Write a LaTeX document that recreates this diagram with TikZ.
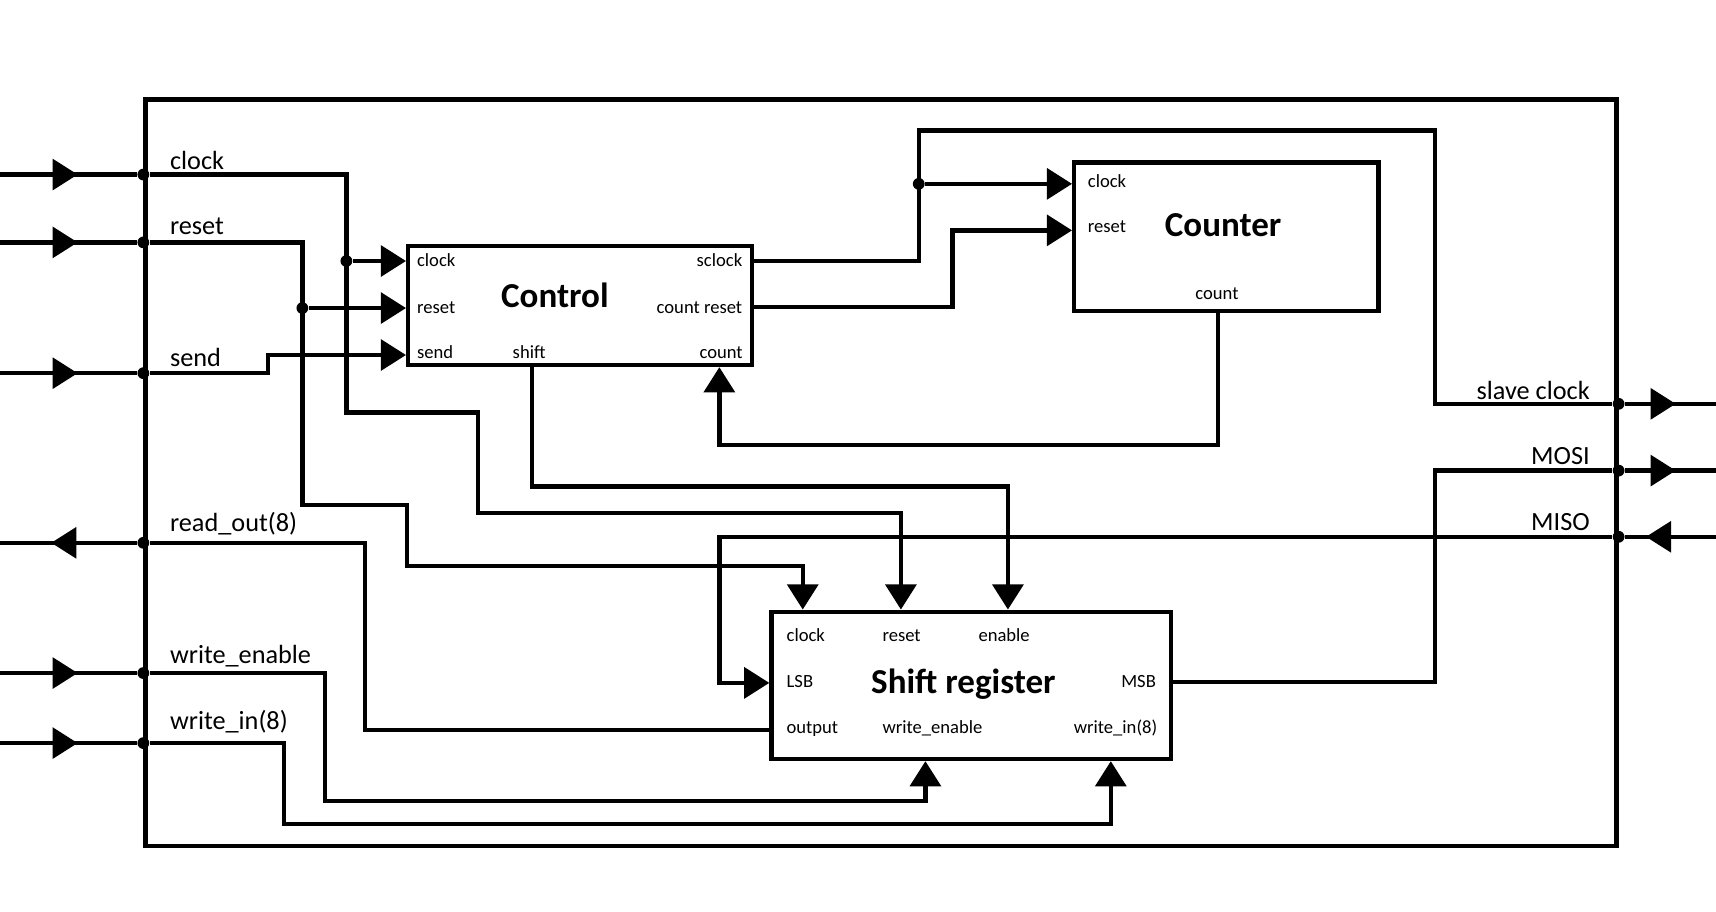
\documentclass[tikz,border=0pt]{standalone}
\usepackage{fontspec}
\setmainfont{Carlito}
\usetikzlibrary{arrows.meta, positioning, calc, decorations.markings}

\begin{document}
\begin{tikzpicture}[x=0.5pt, y=-0.5pt]
  \newcommand\tiplen{11.5pt}
  \newcommand\tipwid{14pt}

  \tikzset{wire/.style={line width=2pt}}
  \tikzset{portarrow/.style={wire, -{Triangle[length=\tiplen, width=\tipwid]}}}
  \tikzset{midarrow/.style={wire, postaction={decorate}, decoration={markings, mark=at position #1 with {\arrow{Triangle[length=\tiplen, width=\tipwid]}}}}}
  \tikzset{block/.style={draw, line width=2pt, inner sep=0pt}}
  \tikzset{jdot/.style={circle, fill, inner sep=0pt, minimum size=5.4pt}}
  \tikzset{portlbl/.style={inner sep=0pt, font=\fontsize{8.5}{10}\selectfont}}
  \tikzset{siglbl/.style={inner sep=0pt, font=\fontsize{12}{14}\selectfont}}
  \tikzset{blocklbl/.style={inner sep=0pt, font=\fontsize{16}{19}\selectfont\bfseries}}

  \useasboundingbox (0,0) rectangle (1568,833);

  % frame and blocks
  \node[block, minimum width=672pt, minimum height=341pt] (frame) at (805,432) {};
  \node[block, minimum width=157pt, minimum height=54.25pt] (ctrl) at (530,279.25) {};
  \node[block, minimum width=139pt, minimum height=67.65pt] (cnt) at (1120.6,216.25) {};
  \node[block, minimum width=182.5pt, minimum height=67.25pt] (sreg) at (887.5,626.25) {};

  \node[blocklbl, anchor=base] (ctrl-name) at (507,281) {Control};
  \node[blocklbl, anchor=base] (cnt-name) at (1117.6,216.3) {Counter};
  \node[blocklbl, anchor=base] (sreg-name) at (880.3,633.5) {Shift register};

  % ports
  \coordinate (ctrl-clk) at (ctrl.west |- 0,238.5);
  \coordinate (ctrl-rst) at (ctrl.west |- 0,281.5);
  \coordinate (ctrl-snd) at (ctrl.west |- 0,324.4);
  \coordinate (ctrl-sclk) at (ctrl.east |- 0,238.5);
  \coordinate (ctrl-crst) at (ctrl.east |- 0,280.5);
  \coordinate (ctrl-shift) at (ctrl.south -| 486,0);
  \coordinate (ctrl-cnt) at (ctrl.south -| 657.3,0);
  \coordinate (cnt-clk) at (cnt.west |- 0,168);
  \coordinate (cnt-rst) at (cnt.west |- 0,210.5);
  \coordinate (cnt-cnt) at (cnt.south -| 1112.8,0);
  \coordinate (sreg-clk) at (sreg.north -| 733.5,0);
  \coordinate (sreg-rst) at (sreg.north -| 823.2,0);
  \coordinate (sreg-en) at (sreg.north -| 921,0);
  \coordinate (sreg-lsb) at (sreg.west |- 0,624);
  \coordinate (sreg-out) at (sreg.west |- 0,667);
  \coordinate (sreg-msb) at (sreg.east |- 0,623);
  \coordinate (sreg-wen) at (sreg.south -| 845.6,0);
  \coordinate (sreg-win) at (sreg.south -| 1015,0);

  \foreach \txt/\pos/\anc [count=\i] in {clock/{380.7,243.7}/base west, reset/{380.7,286.3}/base west, send/{380.7,328}/base west, shift/{468.1,328}/base west, sclock/{678.6,243.7}/base east, count reset/{678.6,286.3}/base east, count/{679,328}/base east}{
    \node[portlbl, anchor=\anc] (ctrl-lbl\i) at (\pos) {\txt};
  }
  \foreach \txt/\pos/\anc [count=\i] in {clock/{993.7,171}/base west, reset/{993.7,212.6}/base west, count/{1112,273.5}/base}{
    \node[portlbl, anchor=\anc] (cnt-lbl\i) at (\pos) {\txt};
  }
  \foreach \txt/\pos/\anc [count=\i] in {clock/{718.4,586.3}/base west, reset/{806,586.3}/base west, enable/{893.7,586.3}/base west, LSB/{718.4,628}/base west, MSB/{1056.6,628}/base east, output/{718.4,670}/base west, write\_enable/{806,670}/base west, write\_in(8)/{1057.8,670}/base east}{
    \node[portlbl, anchor=\anc] (sreg-lbl\i) at (\pos) {\txt};
  }

  % outer signals
  \foreach \sig/\y in {clk/159.5, rst/221.5, snd/341, wen/615, win/679}{
    \coordinate (in-\sig) at (0,\y);
    \node[jdot] (j-\sig) at (frame.west |- in-\sig) {};
    \draw[midarrow=35.5pt] (in-\sig) -- (j-\sig);
  }
  \coordinate (out-rd) at (0,496);
  \node[jdot] (j-rd) at (frame.west |- out-rd) {};
  \draw[midarrow=39.2pt] (j-rd) -- (out-rd);

  \foreach \sig/\y in {sclk/369, mosi/430}{
    \coordinate (out-\sig) at (1568,\y);
    \node[jdot] (j-\sig) at (frame.east |- out-\sig) {};
    \draw[midarrow=23.2pt] (j-\sig) -- (out-\sig);
  }
  \coordinate (in-miso) at (1568,490.5);
  \node[jdot] (j-miso) at (frame.east |- in-miso) {};
  \draw[midarrow=32pt] (in-miso) -- (j-miso);

  \foreach \sig/\txt/\y in {clk/clock/155, rst/reset/214, snd/send/335, rd/read\_out(8)/486, wen/write\_enable/606, win/write\_in(8)/667}{
    \node[siglbl, anchor=base west] (lbl-\sig) at (155,\y) {\txt};
  }
  \foreach \sig/\txt/\y in {sclk/slave clock/364.6, mosi/MOSI/424, miso/MISO/485}{
    \node[siglbl, anchor=base east] (lbl-\sig) at (1453,\y) {\txt};
  }

  % inside wiring
  \node[jdot] (jc-clk) at (316.5,238.5) {};
  \node[jdot] (jc-rst) at (276.3,281.5) {};
  \node[jdot] (jc-sclk) at (839.5,168) {};

  \draw[portarrow] (j-clk) -| (316.5,377) -| (437,469) -| (sreg-rst);
  \draw[portarrow] (jc-clk) -- (ctrl-clk);
  \draw[portarrow] (j-rst) -| (276.3,461.4) -| (371.7,517) -| (sreg-clk);
  \draw[portarrow] (jc-rst) -- (ctrl-rst);
  \draw[portarrow] (j-snd) -| (244.8,324.4) -- (ctrl-snd);
  \draw[wire] (sreg-out) -| (333.5,496) -- (j-rd);
  \draw[portarrow] (j-wen) -| (297,732) -| (sreg-wen);
  \draw[portarrow] (j-win) -| (259.7,753) -| (sreg-win);

  \draw[wire] (ctrl-sclk) -| (839.5,119.4) -| (1311.3,369) -- (j-sclk);
  \draw[portarrow] (jc-sclk) -- (cnt-clk);
  \draw[portarrow] (ctrl-crst) -| (870.5,210.5) -- (cnt-rst);
  \draw[portarrow] (cnt-cnt) |- (657.3,406.6) -- (ctrl-cnt);
  \draw[portarrow] (ctrl-shift) |- (921,444.7) -- (sreg-en);
  \draw[wire] (sreg-msb) -| (1311.3,430) -- (j-mosi);
  \draw[portarrow] (j-miso) -| (657.3,624) -- (sreg-lsb);
\end{tikzpicture}
\end{document}
